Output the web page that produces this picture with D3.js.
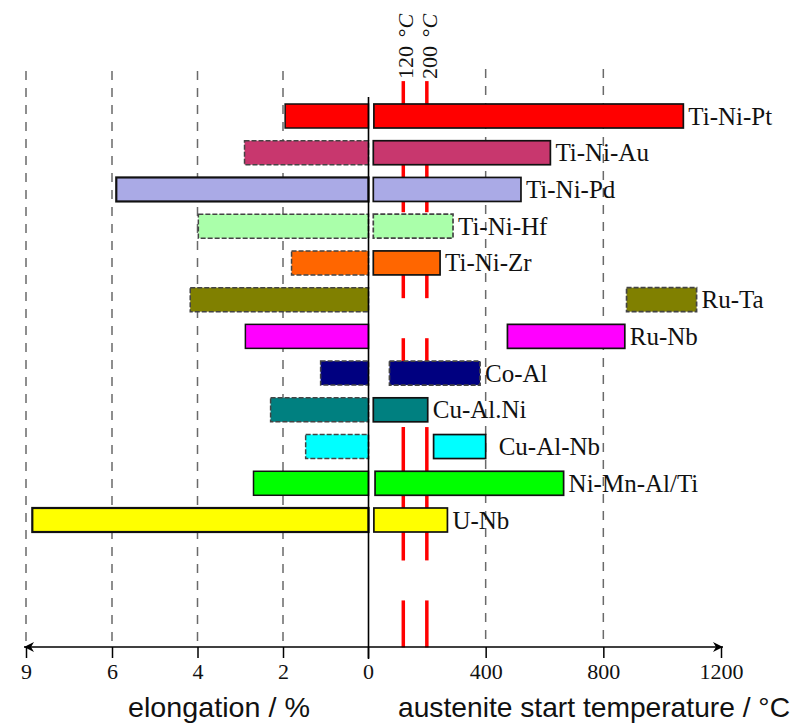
<!DOCTYPE html>
<html>
<head>
<meta charset="utf-8">
<script src="https://cdn.jsdelivr.net/npm/d3@7"></script>
<style>
  html, body { margin: 0; padding: 0; background: #fff; }
  svg { display: block; }
</style>
</head>
<body>
<svg id="chart" width="807" height="727"></svg>
<script>
// ---------------- data ----------------
const alloys = ["Ti-Ni-Pt","Ti-Ni-Au","Ti-Ni-Pd","Ti-Ni-Hf","Ti-Ni-Zr","Ru-Ta","Ru-Nb","Co-Al","Cu-Al.Ni","Cu-Al-Nb","Ni-Mn-Al/Ti","U-Nb"];
const elongation = [1.95, 2.9, 5.9, 3.98, 1.8, 4.17, 2.88, 1.12, 2.29, 1.47, 2.69, 8.78];
const asStart = [20, 18, 18, 18, 18, 879, 474, 73, 18, 223, 24, 20];
const asEnd   = [1072, 620, 520, 289, 245, 1117, 873, 381, 203, 400, 665, 270];
const colors  = ["#ff0000","#c8376e","#aaaae6","#aaffaa","#ff6600","#808000","#ff00ff","#000080","#008080","#00ffff","#00ff00","#ffff00"];
const elongTicks = [2, 4, 6, 9];
const tempTicks = [0, 400, 800, 1200];
const markTemps = [120, 200];
// red marker line segments, in row units [from, to]
const markSegments = [[-0.95, 0], [0.9, 2.62], [4.05, 4.96], [6.05, 6.9], [8.47, 12.1], [13.19, 14.47]];

// ---------------- styles ----------------
const leftDashed  = [false, true, false, true, true, true, false, true, true, true, false, false];
const rightDashed = [false, false, false, true, false, true, false, true, false, false, false, false];
const thick = {2: true, 11: true};

// ---------------- layout ----------------
const svg = d3.select("#chart");
const axisY = 647;
const gridTop = 71;
const xL = d3.scaleLinear().domain([0, 6, 9]).range([368.5, 112, 26]);
const xR = d3.scaleLinear().domain([0, 1200]).range([368, 721]);
const yRow = d3.scaleLinear().domain([0, 11]).range([116, 520]);
const barH = 24;
const serif = "'Liberation Serif', 'Times New Roman', serif";

// grid lines
const gridG = svg.append("g");
gridG.selectAll("line.gl").data(elongTicks).join("line")
  .attr("x1", d => xL(d)).attr("x2", d => xL(d))
  .attr("y1", gridTop).attr("y2", axisY)
  .attr("stroke", "#6a6a6a").attr("stroke-width", 1.5).attr("stroke-dasharray", "9,8");
gridG.selectAll("line.gr").data(tempTicks.filter(d => d > 0 && d < 1200)).join("line")
  .attr("x1", d => xR(d)).attr("x2", d => xR(d))
  .attr("y1", gridTop - 2).attr("y2", axisY)
  .attr("stroke", "#6a6a6a").attr("stroke-width", 1.5).attr("stroke-dasharray", "9,8");

// red marker lines (behind bars)
const markG = svg.append("g");
markTemps.forEach(t => {
  markG.selectAll(null).data(markSegments).join("line")
    .attr("x1", xR(t)).attr("x2", xR(t))
    .attr("y1", d => yRow(d[0])).attr("y2", d => yRow(d[1]))
    .attr("stroke", "#ff0000").attr("stroke-width", 3.5);
});

// bars
const barG = svg.append("g");
alloys.forEach((a, i) => {
  const y0 = yRow(i) - barH / 2;
  barG.append("rect")
    .attr("x", xL(elongation[i])).attr("y", y0)
    .attr("width", xL(0) - xL(elongation[i])).attr("height", barH)
    .attr("fill", colors[i])
    .attr("stroke", leftDashed[i] ? "#444" : "#111")
    .attr("stroke-width", thick[i] ? 2.2 : 1.5)
    .attr("stroke-dasharray", leftDashed[i] ? "5,2" : null);
  barG.append("rect")
    .attr("x", xR(asStart[i])).attr("y", y0)
    .attr("width", xR(asEnd[i]) - xR(asStart[i])).attr("height", barH)
    .attr("fill", colors[i])
    .attr("stroke", rightDashed[i] ? "#444" : "#111")
    .attr("stroke-width", 1.7)
    .attr("stroke-dasharray", rightDashed[i] ? "5,2" : null);
  barG.append("text")
    .attr("x", xR(asEnd[i]) + (a === "Cu-Al-Nb" ? 13 : 5))
    .attr("y", yRow(i) + 8.5)
    .attr("font-family", serif)
    .attr("font-size", 25)
    .attr("fill", "#111")
    .text(a);
});

// central vertical line
svg.append("line")
  .attr("x1", xL(0)).attr("x2", xL(0))
  .attr("y1", 97).attr("y2", axisY + 12)
  .attr("stroke", "#000").attr("stroke-width", 1.6);

// marker labels (rotated)
markTemps.forEach(t => {
  const tx = svg.append("text")
    .attr("transform", `translate(${xR(t) + 10},79) rotate(-90)`)
    .attr("font-family", serif)
    .attr("font-size", 22)
    .attr("fill", "#111");
  tx.append("tspan").text(t + "\u2009\u2009°");
  tx.append("tspan").attr("font-style", "italic").text("C");
});

// axes
const axL = d3.axisBottom(xL).tickValues(elongTicks).tickSize(11).tickPadding(5).tickFormat(d3.format("d"));
const axR = d3.axisBottom(xR).tickValues(tempTicks).tickSize(11).tickPadding(5).tickFormat(d3.format("d"));
[axL, axR].forEach(ax => {
  const g = svg.append("g").attr("transform", `translate(0,${axisY})`).call(ax);
  g.select(".domain").remove();
  g.selectAll(".tick line").attr("stroke", "#000").attr("stroke-width", 1.5);
  g.selectAll(".tick text")
    .attr("font-family", serif)
    .attr("font-size", 22).attr("fill", "#111");
});

// axis line with arrows
const xa = xL(9) - 2, xb = xR(1200) + 2;
svg.append("line").attr("x1", xa).attr("x2", xb).attr("y1", axisY).attr("y2", axisY)
  .attr("stroke", "#000").attr("stroke-width", 1.6);
svg.append("path").attr("d", `M${xa},${axisY} l10,-5 l-3,5 l3,5 z`).attr("fill", "#000");
svg.append("path").attr("d", `M${xb},${axisY} l-10,-5 l3,5 l-3,5 z`).attr("fill", "#000");

// axis titles
svg.append("text").attr("x", 128).attr("y", 717)
  .attr("font-family", "'Liberation Sans', Arial, sans-serif").attr("font-size", 28)
  .attr("textLength", 182).attr("lengthAdjust", "spacingAndGlyphs")
  .attr("fill", "#111").text("elongation / %");
svg.append("text").attr("x", 398).attr("y", 717)
  .attr("font-family", "'Liberation Sans', Arial, sans-serif").attr("font-size", 28)
  .attr("textLength", 392).attr("lengthAdjust", "spacingAndGlyphs")
  .attr("fill", "#111").text("austenite start temperature / °C");
</script>
</body>
</html>
